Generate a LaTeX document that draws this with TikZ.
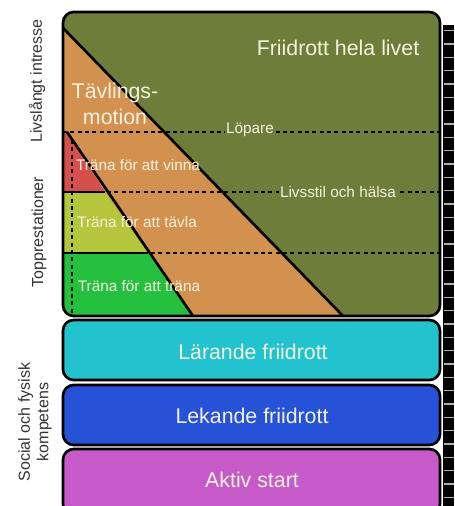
\documentclass[tikz,border=0pt]{standalone}
\usepackage{fontspec}
\setmainfont{Liberation Sans}
\definecolor{lifecol}{HTML}{6E7D3A}
\definecolor{tavlcol}{HTML}{D39150}
\definecolor{vinncol}{HTML}{D6504B}
\definecolor{tavlacol}{HTML}{B3C63C}
\definecolor{tranacol}{HTML}{25C03E}
\definecolor{laercol}{HTML}{22C3CF}
\definecolor{lekcol}{HTML}{2552D6}
\definecolor{aktivcol}{HTML}{C75AC9}
\definecolor{textcol}{HTML}{F4F1DE}
\definecolor{sidecol}{HTML}{333333}

\begin{document}
\begin{tikzpicture}[x=0.75pt, y=-0.75pt,
		box/.style={draw=black, line width=2pt, rounded corners=8pt},
		big/.style={text=textcol, font=\fontsize{16}{20}\selectfont},
		small/.style={text=textcol, font=\fontsize{11.5}{13}\selectfont},
		side/.style={text=sidecol, font=\fontsize{12}{14}\selectfont, rotate=90, align=center},
		guide/.style={dashed, line width=1pt, dash pattern=on 3pt off 2.5pt}]
			\clip (0,0) rectangle (454,506);
			% Right edge
			\fill[black] (443,25) rectangle (454,506);
			\draw[gray!60, line width=8pt, dash pattern=on 1pt off 9pt] (449,30) -- (449,506);
	
			% Top box
			\begin{scope}
				\clip[rounded corners=8pt] (63,12) rectangle (440,316);
				\fill[lifecol] (63,12) rectangle (440,316);
				\fill[tavlcol] (63,28) -- (343,316) -- (63,316) -- cycle;
				\fill[vinncol] (63,132) -- (67,132) -- (105,192) -- (63,192) -- cycle;
				\fill[tavlacol] (63,192) -- (105,192) -- (148,253) -- (63,253) -- cycle;
				\fill[tranacol] (63,253) -- (148,253) -- (193,316) -- (63,316) -- cycle;
				\draw[guide] (63,132) -- (440,132);
				\draw[guide] (63,192) -- (440,192);
				\draw[guide] (63,253) -- (440,253);
				\draw[guide] (72,140) -- (72,316);
				\draw[line width=2pt] (63,28) -- (343,316);
				\draw[line width=2pt] (67,132) -- (193,316);
				\draw[line width=2pt] (63,192) -- (105,192);
				\draw[line width=2pt] (63,253) -- (148,253);
			\end{scope}
			\draw[box] (63,12) rectangle (440,316);
	
			% Bands
			\draw[box, fill=laercol] (63,320) rectangle (440,380);
			\draw[box, fill=lekcol] (63,385) rectangle (440,445);
			\draw[box, fill=aktivcol] (63,449) rectangle (440,515);
	
			% Labels
			\node[big] (hela) at (338,48) {Friidrott hela livet};
			\node[big, align=center] (motion) at (115,104) {Tävlings-\\motion};
			\node[small, fill=lifecol, inner sep=1pt] (lopare) at (250,130) {Löpare};
			\node[small] (vinna) at (138,165) {Träna för att vinna};
			\node[small, fill=lifecol, inner sep=1pt] (livsstil) at (338,192) {Livsstil och hälsa};
			\node[small] (tavla) at (137,222) {Träna för att tävla};
			\node[small] (trana) at (139,286) {Träna för att träna};
			\node[big] (laer) at (253,352) {Lärande friidrott};
			\node[big] (lek) at (252,416) {Lekande friidrott};
			\node[big] (aktiv) at (252,480) {Aktiv start};
	
			% Side labels
			\node[side] (intresse) at (37,81) {Livslångt intresse};
			\node[side] (topp) at (39,232) {Topprestationer};
			\node[side] (social) at (35,422) {Social och fysisk\\kompetens};
		\end{tikzpicture}
\end{document}
